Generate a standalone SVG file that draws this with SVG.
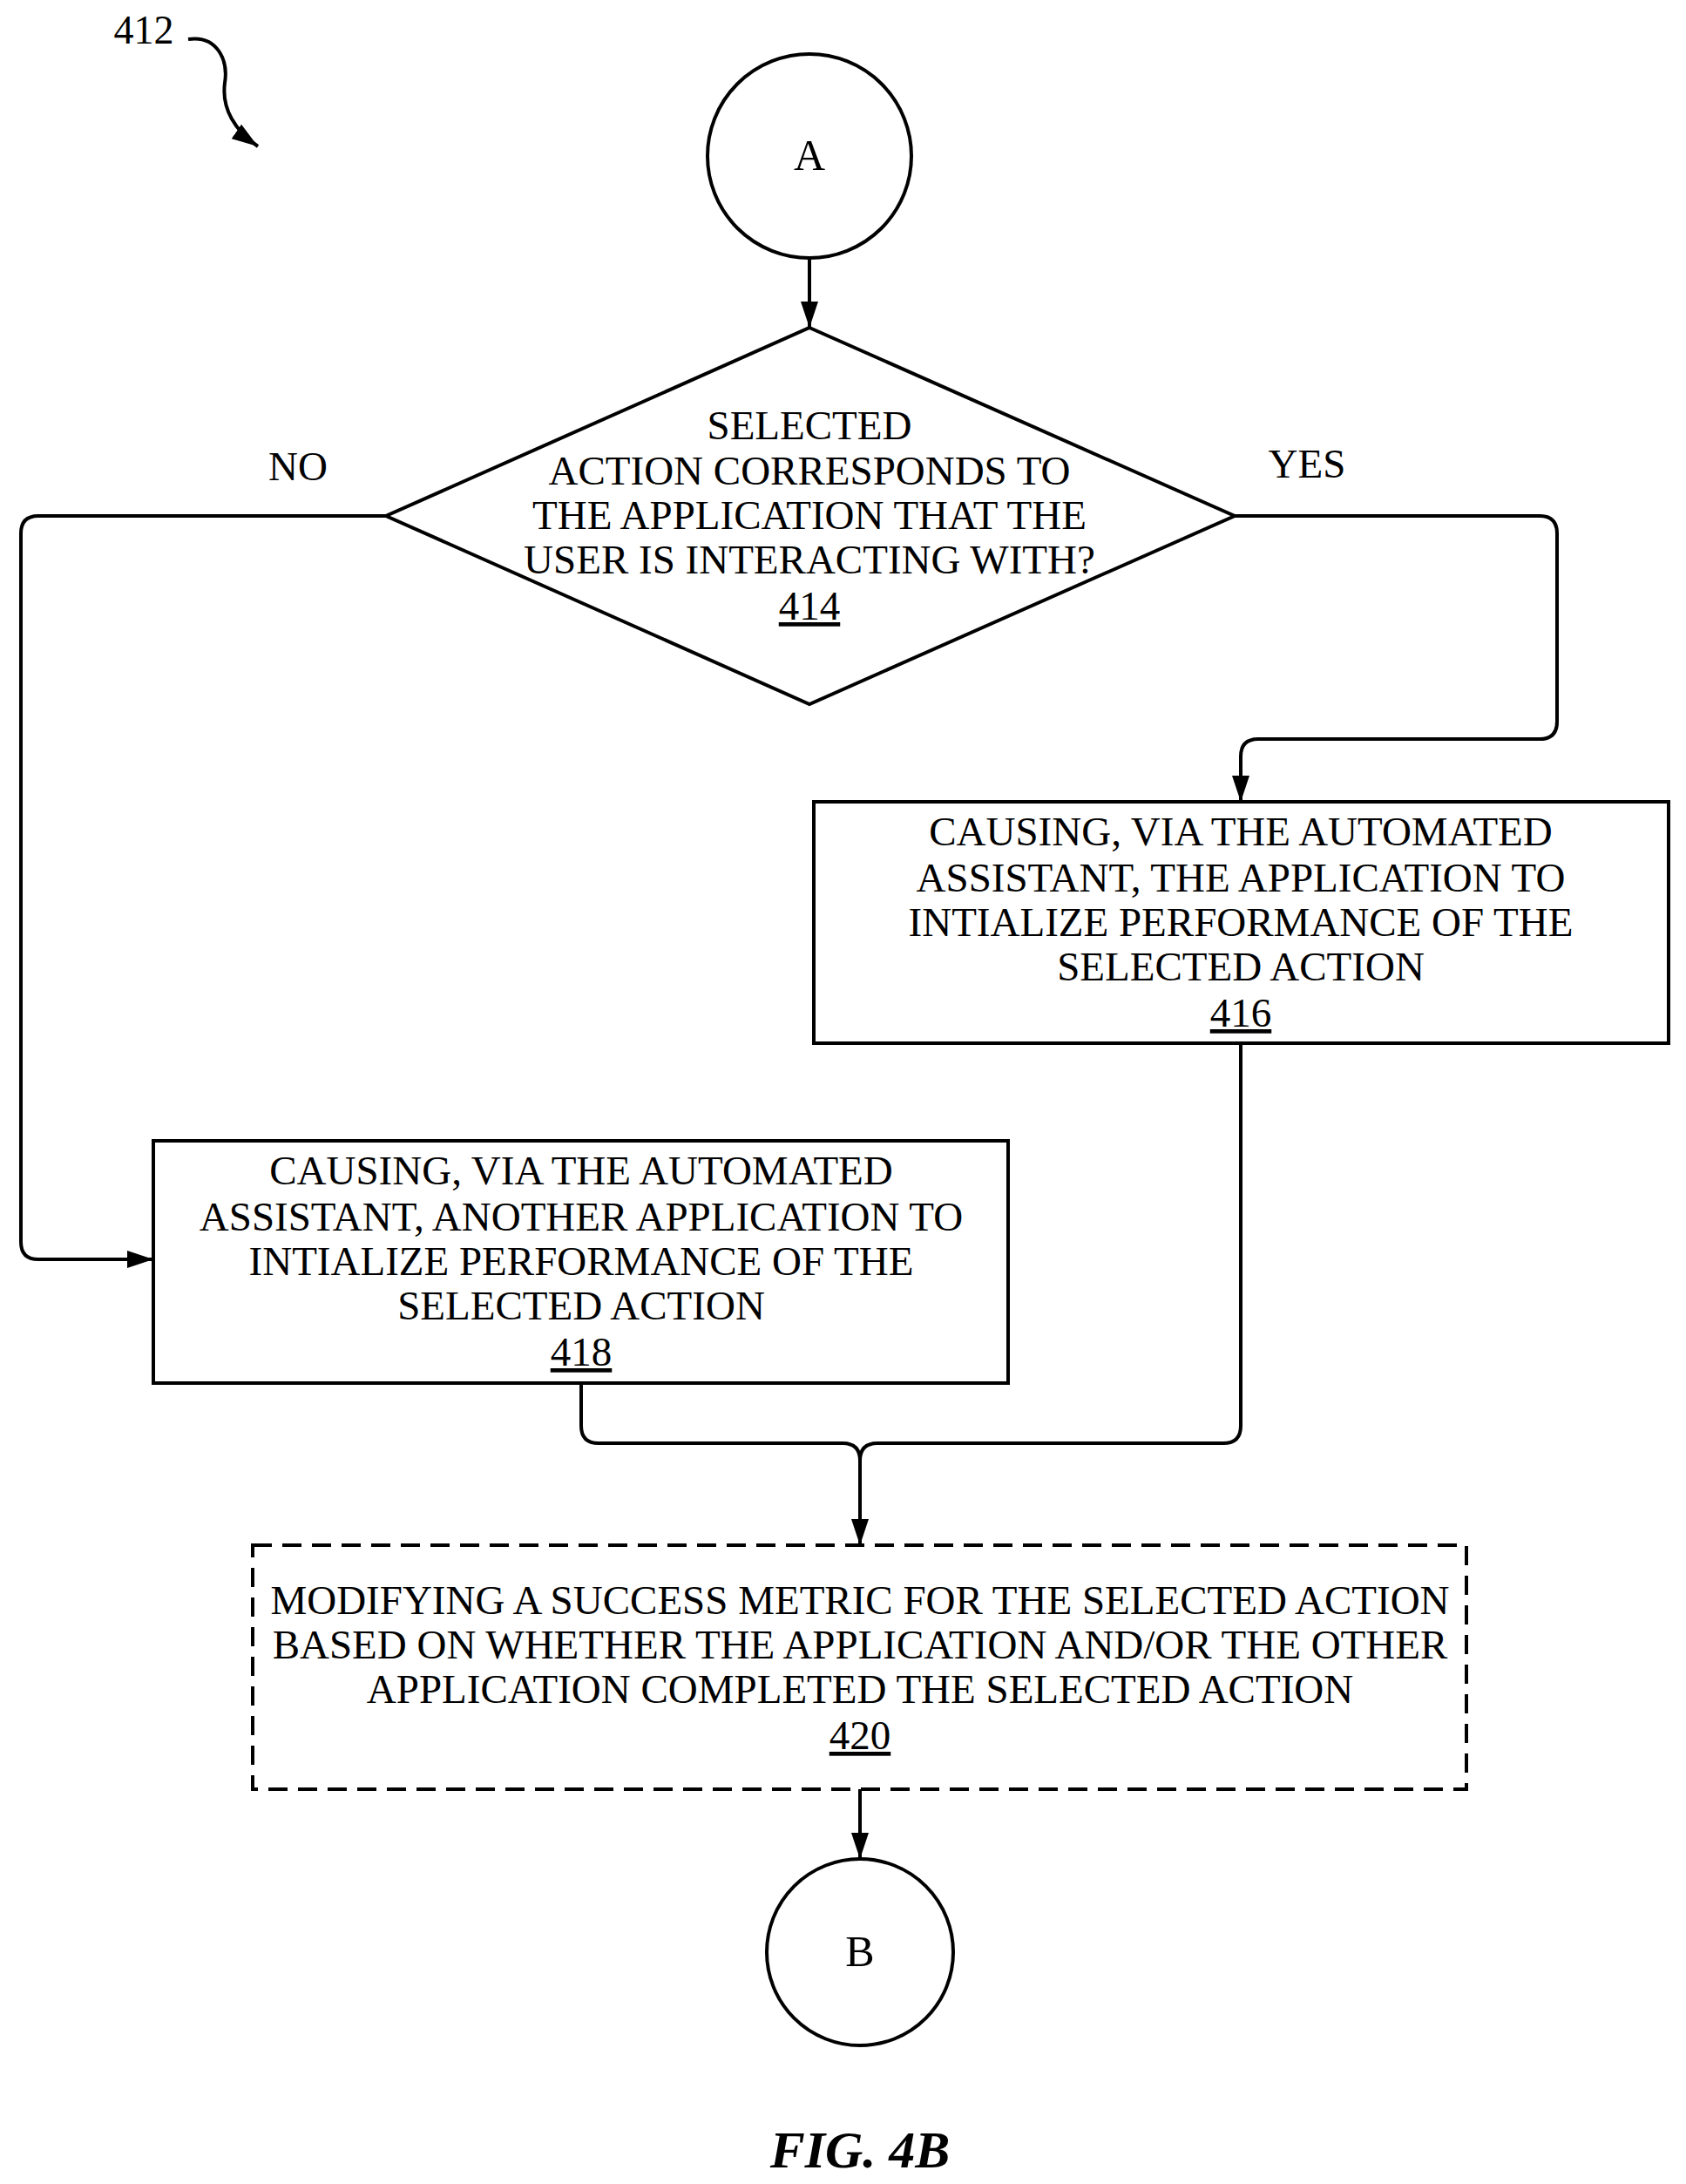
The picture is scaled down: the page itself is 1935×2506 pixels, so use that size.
<svg xmlns="http://www.w3.org/2000/svg" width="1935" height="2506" viewBox="0 0 1935 2506">
<defs>
<marker id="ah" viewBox="0 0 30 20" refX="30" refY="10" markerWidth="30" markerHeight="20" markerUnits="userSpaceOnUse" orient="auto"><path d="M0,0 L30,10 L0,20 Z" fill="#000"/></marker>
<style>
text{font-family:"Liberation Serif","Times New Roman",serif;font-size:47px;text-anchor:middle;fill:#000}
.s{fill:#fff;stroke:#000;stroke-width:4}
.c{fill:none;stroke:#000;stroke-width:4}
</style>
</defs>
<rect width="1935" height="2506" fill="#fff"/>
<g id="label412"><text x="165" y="50" style="font-size:46px">412</text>
<path class="c" d="M216,45 C250,40 262,70 258,95 C254,125 270,150 296,168" marker-end="url(#ah)"/></g>
<g id="nodeA"><circle class="s" cx="929" cy="179" r="117"/><text x="929" y="195" style="font-size:50px">A</text></g>
<g id="n414"><polygon class="s" points="929,376 1417,592 929,808 443,592"/>
<text x="929" y="504">SELECTED</text><text x="929" y="556">ACTION CORRESPONDS TO</text><text x="929" y="607">THE APPLICATION THAT THE</text><text x="929" y="658">USER IS INTERACTING WITH?</text><text x="929" y="711" text-decoration="underline">414</text></g>
<g id="n416"><rect class="s" x="934" y="920" width="981" height="277"/>
<text x="1424" y="970">CAUSING, VIA THE AUTOMATED</text><text x="1424" y="1023">ASSISTANT, THE APPLICATION TO</text><text x="1424" y="1074">INTIALIZE PERFORMANCE OF THE</text><text x="1424" y="1125">SELECTED ACTION</text><text x="1424" y="1178" text-decoration="underline">416</text></g>
<g id="n418"><rect class="s" x="176" y="1309" width="981" height="278"/>
<text x="667" y="1359">CAUSING, VIA THE AUTOMATED</text><text x="667" y="1412">ASSISTANT, ANOTHER APPLICATION TO</text><text x="667" y="1463">INTIALIZE PERFORMANCE OF THE</text><text x="667" y="1514">SELECTED ACTION</text><text x="667" y="1567" text-decoration="underline">418</text></g>
<g id="n420"><rect class="s" x="290" y="1773" width="1393" height="280" stroke-dasharray="22,12"/>
<text x="987" y="1852">MODIFYING A SUCCESS METRIC FOR THE SELECTED ACTION</text><text x="987" y="1903">BASED ON WHETHER THE APPLICATION AND/OR THE OTHER</text><text x="987" y="1954">APPLICATION COMPLETED THE SELECTED ACTION</text><text x="987" y="2007" text-decoration="underline">420</text></g>
<g id="nodeB"><circle class="s" cx="987" cy="2240" r="107"/><text x="987" y="2256" style="font-size:50px">B</text></g>
<g id="connectors">
<path class="c" d="M929,296 L929,376" marker-end="url(#ah)"/>
<path class="c" d="M443,592 L44,592 Q24,592 24,612 L24,1425 Q24,1445 44,1445 L176,1445" marker-end="url(#ah)"/>
<path class="c" d="M1417,592 L1767,592 Q1787,592 1787,612 L1787,828 Q1787,848 1767,848 L1444,848 Q1424,848 1424,868 L1424,920" marker-end="url(#ah)"/>
<path class="c" d="M667,1587 L667,1636 Q667,1656 687,1656 L967,1656 Q987,1656 987,1676"/>
<path class="c" d="M1424,1197 L1424,1636 Q1424,1656 1404,1656 L1007,1656 Q987,1656 987,1676 L987,1773" marker-end="url(#ah)"/>
<path class="c" d="M987,2053 L987,2133" marker-end="url(#ah)"/>
</g>
<text x="987" y="2487" style="font-size:60px;font-style:italic;font-weight:bold">FIG. 4B</text>
<text x="342" y="551">NO</text><text x="1500" y="548">YES</text>
</svg>
